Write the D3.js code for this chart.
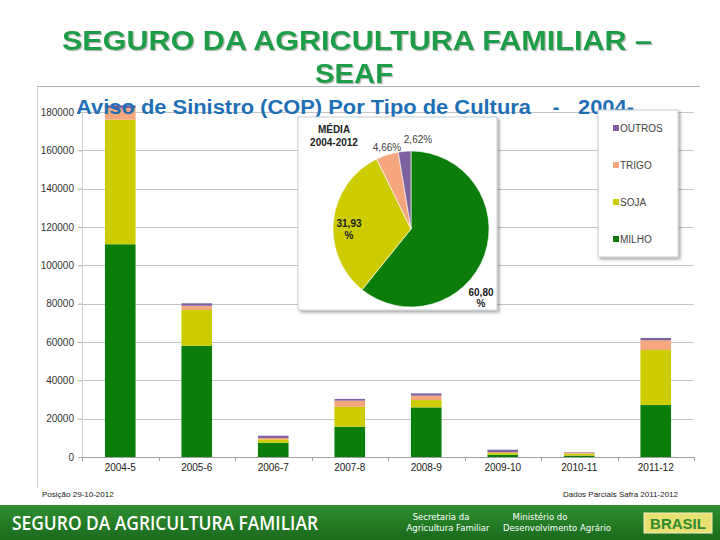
<html>
<head>
  <meta charset="utf-8">
  <title>SEAF - Aviso de Sinistro</title>
  <script src="https://cdn.jsdelivr.net/npm/d3@7"></script>
  <style>
    body { margin: 0; background: #fff; }
    svg { display: block; font-family: "Liberation Sans", Arial, sans-serif; }
  </style>
</head>
<body>
  <script>
    // Dados
    const safras = ["2004-5", "2005-6", "2006-7", "2007-8", "2008-9", "2009-10", "2010-11", "2011-12"];
    const milho  = [111000, 58000, 7500, 15800, 25900, 1200, 700, 27100];
    const soja   = [65000, 18700, 1700, 10400, 3800, 900, 1000, 28700];
    const trigo  = [6000, 2200, 700, 3200, 2300, 400, 700, 5100];
    const outros = [1500, 1300, 1200, 900, 1200, 1300, 200, 1200];
    const yTicks = [0, 20000, 40000, 60000, 80000, 100000, 120000, 140000, 160000, 180000];

    // media 2004-2012 (pizza)
    const pieNames  = ["MILHO", "SOJA", "TRIGO", "OUTROS"];
    const pieValues = [60.80, 31.93, 4.66, 2.62];
    const legendNames = ["OUTROS", "TRIGO", "SOJA", "MILHO"];

    const cores = { milho: "#0a7d0a", soja: "#cccc00", trigo: "#f6a67c", outros: "#7d62a0" };
    const chaves = ["milho", "soja", "trigo", "outros"];

    const w = 720, h = 540;
    const pLeft = 82, pRight = 694, pTop = 112, pBottom = 457;

    const svg = d3.select("body").append("svg").attr("width", w).attr("height", h);

    const defs = svg.append("defs");
    const sombra = defs.append("filter").attr("id", "sombra")
      .attr("x", "-10%").attr("y", "-10%").attr("width", "130%").attr("height", "130%");
    sombra.append("feDropShadow").attr("dx", 2).attr("dy", 2).attr("stdDeviation", 1.5)
      .attr("flood-color", "#000").attr("flood-opacity", 0.35);
    const sombraTitulo = defs.append("filter").attr("id", "sombraTitulo");
    sombraTitulo.append("feDropShadow").attr("dx", 1.2).attr("dy", 1.2).attr("stdDeviation", 0.5)
      .attr("flood-color", "#888").attr("flood-opacity", 0.6);
    const grad = defs.append("linearGradient").attr("id", "faixa")
      .attr("x1", 0).attr("y1", 0).attr("x2", 0).attr("y2", 1);
    grad.append("stop").attr("offset", "0%").attr("stop-color", "#2f8f2f");
    grad.append("stop").attr("offset", "100%").attr("stop-color", "#1b6a1b");

    // Titulo principal
    const titulo = svg.append("g").attr("filter", "url(#sombraTitulo)")
      .attr("fill", "#1e9d46").attr("font-weight", "bold").attr("font-size", 27)
      .attr("text-anchor", "middle");
    titulo.append("text").attr("x", 357).attr("y", 50)
      .attr("textLength", 590).attr("lengthAdjust", "spacingAndGlyphs")
      .text("SEGURO DA AGRICULTURA FAMILIAR –");
    titulo.append("text").attr("x", 354).attr("y", 83)
      .attr("textLength", 78).attr("lengthAdjust", "spacingAndGlyphs").text("SEAF");

    // moldura
    svg.append("line").attr("x1", 37).attr("x2", 700).attr("y1", 86.5).attr("y2", 86.5)
      .attr("stroke", "#a9b3bd");
    svg.append("line").attr("x1", 37.5).attr("x2", 37.5).attr("y1", 86).attr("y2", 488)
      .attr("stroke", "#c9ced3");

    // Scales
    const x = d3.scaleBand().domain(safras).range([pLeft, pRight]).paddingInner(0.6).paddingOuter(0.3);
    const y = d3.scaleLinear().domain([0, 180000]).range([pBottom, pTop]);

    // grade
    svg.append("g").selectAll("line").data(yTicks.slice(1)).join("line")
      .attr("x1", pLeft).attr("x2", pRight)
      .attr("y1", d => Math.round(y(d)) + 0.5).attr("y2", d => Math.round(y(d)) + 0.5)
      .attr("stroke", "#c4c4c4");

    // eixo y
    const yAxis = d3.axisLeft(y).tickValues(yTicks).tickSize(4).tickPadding(4)
      .tickFormat(d3.format("d"));
    const gy = svg.append("g").attr("transform", "translate(" + pLeft + ",0)").call(yAxis);
    gy.select(".domain").attr("stroke", "#d0d0d0");
    gy.selectAll(".tick line").attr("stroke", "#a8a8a8");
    gy.selectAll("text").attr("font-size", 10).attr("fill", "#333")
      .attr("font-family", "Liberation Sans, Arial, sans-serif");

    // barras empilhadas
    const linhas = safras.map((s, i) => ({ safra: s, milho: milho[i], soja: soja[i], trigo: trigo[i], outros: outros[i] }));
    const series = d3.stack().keys(chaves)(linhas);
    svg.append("g").selectAll("g").data(series).join("g")
      .attr("fill", d => cores[d.key])
      .selectAll("rect").data(d => d).join("rect")
      .attr("x", d => x(d.data.safra))
      .attr("width", x.bandwidth())
      .attr("y", d => y(d[1]))
      .attr("height", d => y(d[0]) - y(d[1]));

    // eixo x
    svg.append("line").attr("x1", pLeft).attr("x2", pRight)
      .attr("y1", pBottom + 0.5).attr("y2", pBottom + 0.5).attr("stroke", "#a0a0a0");
    svg.append("g").selectAll("line").data(d3.range(safras.length + 1)).join("line")
      .attr("x1", i => Math.round(pLeft + i * x.step()) + 0.5)
      .attr("x2", i => Math.round(pLeft + i * x.step()) + 0.5)
      .attr("y1", pBottom).attr("y2", pBottom + 4).attr("stroke", "#a0a0a0");
    svg.append("g").selectAll("text").data(safras).join("text")
      .attr("x", d => x(d) + x.bandwidth() / 2).attr("y", pBottom + 14)
      .attr("text-anchor", "middle").attr("font-size", 10).attr("fill", "#222")
      .text(d => d);

    // subtitulo por cima das barras
    const sub = svg.append("g").attr("font-size", 20).attr("font-weight", "bold").attr("fill", "#1f6fb6");
    sub.append("text").attr("x", 76).attr("y", 114)
      .attr("textLength", 455).attr("lengthAdjust", "spacingAndGlyphs")
      .text("Aviso de Sinistro (COP) Por Tipo de Cultura");
    sub.append("text").attr("x", 556).attr("y", 114).attr("text-anchor", "middle").text("-");
    sub.append("text").attr("x", 578).attr("y", 114)
      .attr("textLength", 56).attr("lengthAdjust", "spacingAndGlyphs").text("2004-");

    // caixa da pizza
    svg.append("rect").attr("x", 298).attr("y", 117).attr("width", 199).attr("height", 193)
      .attr("fill", "#fff").attr("stroke", "#c8cdd2").attr("filter", "url(#sombra)");

    const pie = d3.pie().sort(null).value(d => d)(pieValues);
    const arc = d3.arc().innerRadius(0).outerRadius(78);
    const pieCores = [cores.milho, cores.soja, cores.trigo, cores.outros];
    svg.append("g").attr("transform", "translate(411,229)")
      .selectAll("path").data(pie).join("path")
      .attr("d", arc).attr("fill", (d, i) => pieCores[i])
      .attr("stroke", "#fff").attr("stroke-width", 0.6);

    const rot = svg.append("g").attr("font-size", 10).attr("fill", "#222").attr("text-anchor", "middle");
    rot.append("text").attr("x", 334).attr("y", 133).attr("font-weight", "bold").text("MÉDIA");
    rot.append("text").attr("x", 334).attr("y", 146).attr("font-weight", "bold").text("2004-2012");
    rot.append("text").attr("x", 387).attr("y", 151).attr("fill", "#444")
      .text(d3.format(".2f")(pieValues[2]).replace(".", ",") + "%");
    rot.append("text").attr("x", 418).attr("y", 143).attr("fill", "#444")
      .text(d3.format(".2f")(pieValues[3]).replace(".", ",") + "%");
    rot.append("text").attr("x", 349).attr("y", 227).attr("font-weight", "bold")
      .text(d3.format(".2f")(pieValues[1]).replace(".", ","));
    rot.append("text").attr("x", 349).attr("y", 239).attr("font-weight", "bold").text("%");
    rot.append("text").attr("x", 481).attr("y", 296).attr("font-weight", "bold")
      .text(d3.format(".2f")(pieValues[0]).replace(".", ","));
    rot.append("text").attr("x", 481).attr("y", 307).attr("font-weight", "bold").text("%");

    // legenda
    svg.append("rect").attr("x", 598).attr("y", 110).attr("width", 80).attr("height", 147)
      .attr("fill", "#fff").attr("stroke", "#c8cdd2").attr("filter", "url(#sombra)");
    const legCor = { OUTROS: cores.outros, TRIGO: cores.trigo, SOJA: cores.soja, MILHO: cores.milho };
    const leg = svg.append("g").selectAll("g").data(legendNames).join("g")
      .attr("transform", (d, i) => "translate(613," + (128 + i * 37) + ")");
    leg.append("rect").attr("x", 0).attr("y", -3).attr("width", 6).attr("height", 6)
      .attr("fill", d => legCor[d]);
    leg.append("text").attr("x", 7).attr("y", 4).attr("font-size", 10).attr("fill", "#444")
      .text(d => d);

    // notas
    svg.append("text").attr("x", 42).attr("y", 497).attr("font-size", 8).attr("fill", "#222")
      .text("Posição 29-10-2012");
    svg.append("text").attr("x", 678).attr("y", 497).attr("font-size", 8).attr("fill", "#222")
      .attr("text-anchor", "end").text("Dados Parciais Safra 2011-2012");

    // rodape
    svg.append("rect").attr("x", 0).attr("y", 505).attr("width", w).attr("height", 35)
      .attr("fill", "url(#faixa)");
    svg.append("text").attr("x", 12).attr("y", 530).attr("font-size", 20).attr("font-weight", 600)
      .attr("font-family", "Open Sans, sans-serif").attr("fill", "#fff")
      .attr("textLength", 306).attr("lengthAdjust", "spacingAndGlyphs")
      .text("SEGURO DA AGRICULTURA FAMILIAR");
    const logo = svg.append("g").attr("fill", "#fff").attr("font-size", 8.5)
      .attr("font-family", "DejaVu Sans, sans-serif");
    logo.append("text").attr("x", 441).attr("y", 520).attr("text-anchor", "middle").text("Secretaria da");
    logo.append("text").attr("x", 448).attr("y", 531).attr("text-anchor", "middle").text("Agricultura Familiar");
    logo.append("text").attr("x", 540).attr("y", 520).attr("text-anchor", "middle").text("Ministério do");
    logo.append("text").attr("x", 557).attr("y", 531).attr("text-anchor", "middle").text("Desenvolvimento Agrário");
    svg.append("rect").attr("x", 644).attr("y", 513).attr("width", 68).attr("height", 20)
      .attr("fill", "#e8e070").attr("stroke", "#f4f0c0");
    svg.append("text").attr("x", 678).attr("y", 529).attr("text-anchor", "middle")
      .attr("font-size", 15).attr("font-weight", "bold").attr("fill", "#2e8a2e")
      .text("BRASIL");
  </script>
</body>
</html>
